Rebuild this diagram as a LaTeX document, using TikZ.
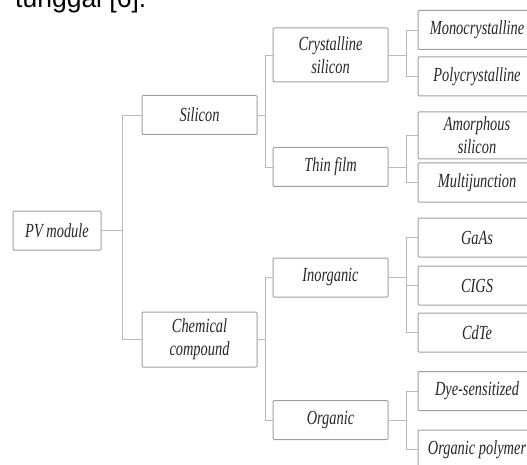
\documentclass[tikz,border=0pt]{standalone}
\usepackage{fontspec}
\newfontfamily\boxfont[FakeStretch=0.72]{Liberation Serif}
\newfontfamily\topfont{Liberation Sans}

\tikzset{
  tbox/.style={draw=gray!75, line width=1pt, rounded corners=1pt,
    align=center, inner sep=0pt, text=black!85,
    minimum width=115pt, minimum height=39pt,
    font=\boxfont\itshape\fontsize{20}{23}\selectfont},
  leaf/.style={minimum width=118pt},
  link/.style={draw=gray!55, line width=0.9pt}
}

\begin{document}
\begin{tikzpicture}[x=1pt,y=-1pt]

      \useasboundingbox (0,0) rectangle (527,465);
      \clip (0,0) rectangle (527,465);

      \node[anchor=base west, inner sep=0pt,
        font=\topfont\fontsize{26.5}{30}\selectfont] (cap) at (15,7.5) {tunggal [6].};

      \begin{scope}[every node/.style={tbox}]
        \node[minimum width=88pt] (pv)    at (57,230.5)    {PV module};
        \node (si)    at (199.5,115)   {Silicon};
        \node[minimum height=55pt] (chem) at (199.5,339.5) {Chemical\\compound};
        \node[minimum height=54pt] (cryst) at (330.5,55) {Crystalline\\silicon};
        \node (thin)  at (330.5,167)   {Thin film};
        \node (inorg) at (330.5,277.5) {Inorganic};
        \node (org)   at (330.5,420)   {Organic};
        \node[leaf] (mono)  at (477,30)    {Monocrystalline};
        \node[leaf] (poly)  at (477,76.5)  {Polycrystalline};
        \node[leaf, minimum height=47pt] (amor) at (477,135.5) {Amorphous\\silicon};
        \node[leaf] (multi) at (477,182.5) {Multijunction};
        \node[leaf] (gaas)  at (477,237.5) {GaAs};
        \node[leaf] (cigs)  at (477,285.5) {CIGS};
        \node[leaf] (cdte)  at (477,332.5) {CdTe};
        \node[leaf] (dye)   at (477,391)   {Dye-sensitized};
        \node[leaf] (opoly) at (477,449.5) {Organic polymer};
      \end{scope}

      \begin{scope}[every path/.style={link}]
        \draw (pv.east)    -- ++(21,0) |- (si.west);
        \draw (pv.east)    -- ++(21,0) |- (chem.west);
        \draw (si.east)    -- ++(8,0)  |- (cryst.west);
        \draw (si.east)    -- ++(8,0)  |- (thin.west);
        \draw (chem.east)  -- ++(8,0)  |- (inorg.west);
        \draw (chem.east)  -- ++(8,0)  |- (org.west);
        \draw (cryst.east) -- ++(18,0) |- (mono.west);
        \draw (cryst.east) -- ++(18,0) |- (poly.west);
        \draw (thin.east)  -- ++(18,0) |- (amor.west);
        \draw (thin.east)  -- ++(18,0) |- (multi.west);
        \draw (inorg.east) -- ++(18,0) |- (gaas.west);
        \draw (inorg.east) -- ++(18,0) |- (cigs.west);
        \draw (inorg.east) -- ++(18,0) |- (cdte.west);
        \draw (org.east)   -- ++(18,0) |- (dye.west);
        \draw (org.east)   -- ++(18,0) |- (opoly.west);
      \end{scope}

    \end{tikzpicture}
\end{document}
